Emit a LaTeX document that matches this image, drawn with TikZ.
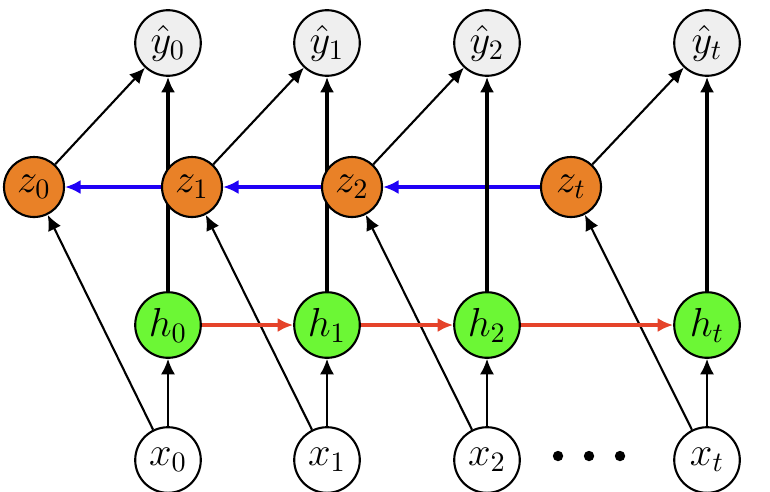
\documentclass[tikz,border=0pt]{standalone}
\usepackage{amsmath,amssymb}
\usepackage{xcolor}
\usetikzlibrary{arrows.meta,backgrounds}
\definecolor{zorange}{HTML}{E98127}
\definecolor{hgreen}{HTML}{6CF735}
\definecolor{ygray}{HTML}{EFEFEF}
\definecolor{zblue}{HTML}{1F00F5}
\definecolor{hred}{HTML}{E5432A}

\begin{document}
\begin{tikzpicture}[>={Latex[length=5.5pt,width=5pt]},font=\Large,
  unit/.style={circle,draw,line width=0.75pt,minimum size=0.82cm,inner sep=0pt},
  outnode/.style={unit,fill=ygray},
  zunit/.style={unit,fill=zorange,minimum size=0.75cm},
  hunit/.style={unit,fill=hgreen},
  innode/.style={unit,fill=white},
  thin/.style={->,line width=0.75pt},
  thick/.style={->,line width=1.4pt}]
\useasboundingbox (0,0) rectangle (9.625,6.1375);
% rows: yhat, z, h, x
\foreach \i/\xx/\zx/\sub in {0/2.1/0.425/0,1/4.0875/2.4/1,2/6.0875/4.4/2,t/8.8375/7.1375/t}{
  \node[outnode] (y\i) at (\xx,5.6) {$\hat{y}_\sub$};
  \node[zunit] (z\i) at (\zx,3.8) {$z_\sub$};
  \node[hunit] (h\i) at (\xx,2.075) {$h_\sub$};
  \node[innode] (x\i) at (\xx,0.3875) {$x_\sub$};
}
\foreach \d in {6.975,7.3625,7.75}
  \fill (\d,0.4375) circle (0.065);
% connectors
\begin{scope}[on background layer]
\foreach \i in {0,1,2,t}{
  \draw[thin] (x\i)--(h\i);
  \draw[thin] (x\i)--(z\i);
  \draw[thin] (z\i)--(y\i);
}
\foreach \a/\b in {1/0,2/1,t/2}
  \draw[->,zblue,line width=1.1pt] (z\a)--(z\b);
\foreach \a/\b in {0/1,1/2,2/t}
  \draw[->,hred,line width=1.1pt] (h\a)--(h\b);
\foreach \i in {0,1,2,t}
  \draw[thick] (h\i)--(y\i);
\end{scope}
\end{tikzpicture}
\end{document}
